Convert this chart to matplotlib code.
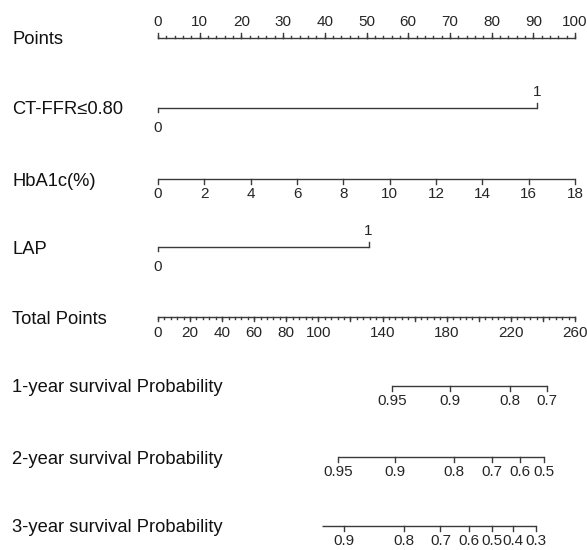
import numpy as np
import matplotlib.pyplot as plt
from matplotlib.transforms import blended_transform_factory

plt.rcParams['font.family'] = ['Liberation Sans', 'DejaVu Sans']

# nomogram content
row_names = ['Points', 'CT-FFR≤0.80', 'HbA1c(%)', 'LAP', 'Total Points',
             '1-year survival Probability', '2-year survival Probability',
             '3-year survival Probability']
row_y = [38, 108, 179, 247, 317, 386, 457, 526]   # line heights (px from top)

points_ticks = np.arange(0, 101, 10)
ctffr_values = ['0', '1']
ctffr_points = [0, 91]
hba1c_values = np.arange(0, 19, 2)
hba1c_max_points = 100
lap_values = ['0', '1']
lap_points = [0, 50.5]
total_max = 260
total_labels = [0, 20, 40, 60, 80, 100, 140, 180, 220, 260]

surv1_labels = ['0.95', '0.9', '0.8', '0.7']
surv1_total = [145.9, 182.0, 219.4, 242.5]
surv2_labels = ['0.95', '0.9', '0.8', '0.7', '0.6', '0.5']
surv2_total = [112.2, 147.8, 184.5, 208.2, 225.7, 240.6]
surv3_labels = ['0.9', '0.8', '0.7', '0.6', '0.5', '0.4', '0.3']
surv3_total = [115.7, 153.1, 176.1, 193.6, 208.5, 221.6, 235.8]
surv3_start = 102.2

W, H = 587, 550
fig = plt.figure(figsize=(W / 100, H / 100), dpi=100)
ax = fig.add_axes([158 / W, 0, 417 / W, 1])
ax.set_xlim(0, 100)
ax.set_ylim(H, 0)
ax.axis('off')

lc = '#3a3a3a'
lw = 1.0
fs_lab = 13.2
fs_tick = 11


def tot2pts(t):
    return np.asarray(t, dtype=float) * 100 / total_max


def hline(x0, x1, y):
    ax.plot([x0, x1], [y, y], color=lc, lw=lw, solid_capstyle='butt', clip_on=False)


def ticks(xs, y, length, up=False):
    for x in xs:
        y2 = y - length if up else y + length
        ax.plot([x, x], [y, y2], color=lc, lw=lw, clip_on=False)


def labels(xs, texts, y, up=False, off=14):
    for x, t in zip(xs, texts):
        ax.text(x, y - off if up else y + off, t, ha='center', va='center',
                fontsize=fs_tick, color='#262626', clip_on=False)


# row names
tr = blended_transform_factory(fig.transFigure, ax.transData)
for name, y in zip(row_names, row_y):
    ax.text(12 / W, y + 2, name, transform=tr, ha='left', va='center',
            fontsize=fs_lab, color='#111111')

# Points
y = row_y[0]
hline(0, 100, y)
ticks(points_ticks, y, 5, up=True)
ticks(np.arange(0, 101, 2), y, 2, up=True)
labels(points_ticks, [str(v) for v in points_ticks], y, up=True, off=16)

# CT-FFR
y = row_y[1]
hline(ctffr_points[0], ctffr_points[1], y)
ticks([ctffr_points[0]], y, 4)
ticks([ctffr_points[1]], y, 5, up=True)
labels([ctffr_points[0]], [ctffr_values[0]], y, off=20)
labels([ctffr_points[1]], [ctffr_values[1]], y, up=True, off=16)

# HbA1c
y = row_y[2]
hb_x = hba1c_values * hba1c_max_points / hba1c_values[-1]
hline(hb_x[0], hb_x[-1], y)
ticks(hb_x, y, 5)
labels(hb_x, [str(v) for v in hba1c_values], y, off=15)

# LAP
y = row_y[3]
hline(lap_points[0], lap_points[1], y)
ticks([lap_points[0]], y, 4)
ticks([lap_points[1]], y, 5, up=True)
labels([lap_points[0]], [lap_values[0]], y, off=20)
labels([lap_points[1]], [lap_values[1]], y, up=True, off=16)

# Total Points
y = row_y[4]
hline(0, 100, y)
ticks(tot2pts(np.arange(0, total_max + 1, 20)), y, 4)
ticks(tot2pts(np.arange(0, total_max + 1, 4)), y, 2)
labels(tot2pts(total_labels), [str(v) for v in total_labels], y, off=16)

# survival rows
for (labs, tots, y, start) in [(surv1_labels, surv1_total, row_y[5], None),
                               (surv2_labels, surv2_total, row_y[6], None),
                               (surv3_labels, surv3_total, row_y[7], surv3_start)]:
    xs = tot2pts(tots)
    x0 = tot2pts(start) if start is not None else xs[0]
    hline(x0, xs[-1], y)
    ticks(xs, y, 5)
    labels(xs, labs, y, off=15)

fig.savefig('out.png', dpi=100)
